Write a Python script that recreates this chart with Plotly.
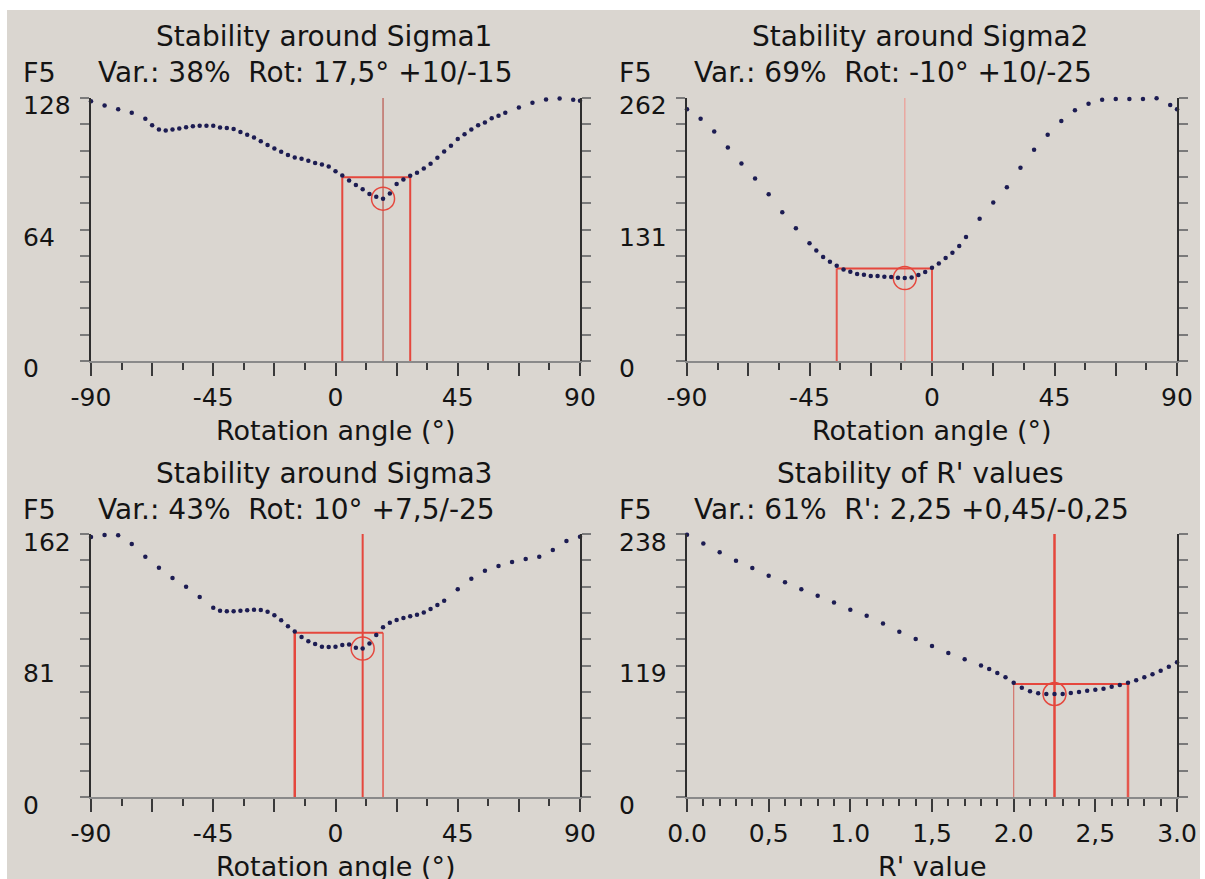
import plotly.graph_objects as go

# ---------------- data ----------------
s1_x = [-90, -85, -80, -75, -70, -67.5, -65, -62.5, -60, -57.5, -55, -52.5, -50, -47.5, -45,
        -42.5, -40, -37.5, -35, -32.5, -30, -27.5, -25, -22.5, -20, -17.5, -15, -12.5, -10,
        -7.5, -5, -2.5, 0, 2.5, 5, 7.5, 10, 12.5, 15, 17.5, 20, 22.5, 25, 27.5, 30, 32.5, 35,
        37.5, 40, 42.5, 45, 47.5, 50, 52.5, 55, 57.5, 60, 62.5, 67.5, 72.5, 77.5, 82.5, 87.5, 90]
s1_y = [126.4, 124.3, 122.5, 120.8, 117.9, 114.7, 112.7, 112.2, 112.7, 113.2, 113.8, 114.3, 114.5,
        114.5, 114.5, 113.7, 113.4, 112.9, 111.4, 110.1, 108.8, 106.9, 105.1, 103.4, 101.8, 100.2,
        99.0, 98.4, 97.4, 96.4, 95.6, 94.7, 92.4, 90.3, 87.8, 85.7, 83.6, 81.3, 79.9, 79.0, 81.5,
        86.2, 88.3, 90.1, 91.6, 93.7, 96.0, 98.9, 102.0, 104.7, 108.0, 110.4, 112.7, 114.7, 116.1,
        118.1, 119.4, 120.8, 123.4, 125.7, 127.3, 127.8, 127.2, 126.7]

s2_x = [-90, -85, -80, -75, -70, -65, -60, -55, -50, -45, -42.5, -40, -37.5, -35, -32.5, -30,
        -27.5, -25, -22.5, -20, -17.5, -15, -12.5, -10, -7.5, -5, -2.5, 0, 2.5, 5, 7.5, 10, 12.5,
        17.5, 22.5, 27.5, 32.5, 37.5, 42.5, 47.5, 52.5, 57.5, 62.5, 67.5, 72.5, 77.5, 82.5, 87.5, 90]
s2_y = [250.7, 241.4, 228.7, 212.7, 196.7, 181.8, 166.1, 148.1, 132.2, 117.2, 110.2, 103.5, 98.9,
        94.9, 91.2, 88.9, 86.6, 85.9, 84.6, 84.6, 83.9, 83.6, 82.9, 82.6, 83.2, 85.6, 88.6, 92.9,
        97.2, 102.5, 107.9, 114.5, 123.5, 141.8, 157.8, 173.1, 192.4, 210.4, 225.4, 239.0, 249.7,
        256.3, 260.3, 261.0, 261.0, 261.0, 261.7, 255.0, 250.7]

s3_x = [-90, -85, -80, -75, -70, -65, -60, -55, -50, -45, -42.5, -40, -37.5, -35, -32.5, -30,
        -27.5, -25, -22.5, -20, -17.5, -15, -12.5, -10, -7.5, -5, -2.5, 0, 2.5, 5, 7.5, 10, 12.5,
        15, 17.5, 20, 22.5, 25, 27.5, 30, 32.5, 35, 37.5, 40, 45, 50, 55, 60, 65, 70, 75, 80, 85, 90]
s3_y = [160.1, 161.4, 161.2, 155.8, 148.0, 141.2, 134.9, 129.5, 123.2, 116.6, 114.8, 114.4, 114.4,
        114.8, 115.0, 115.4, 115.2, 114.1, 111.9, 108.8, 105.1, 102.0, 98.5, 95.9, 94.2, 92.6, 92.4,
        92.6, 93.6, 94.0, 92.0, 91.4, 94.6, 99.8, 104.5, 107.4, 109.0, 110.2, 111.3, 112.3, 113.7,
        115.8, 118.3, 120.9, 127.9, 134.5, 139.4, 142.3, 144.7, 146.6, 148.0, 152.1, 157.7, 160.3]

r_x = [0.0, 0.1, 0.2, 0.3, 0.4, 0.5, 0.6, 0.7, 0.8, 0.9, 1.0, 1.1, 1.2, 1.3, 1.4, 1.5, 1.6, 1.7,
       1.8, 1.85, 1.9, 1.95, 2.0, 2.05, 2.1, 2.15, 2.2, 2.25, 2.3, 2.35, 2.4, 2.45, 2.5, 2.55, 2.6,
       2.65, 2.7, 2.75, 2.8, 2.85, 2.9, 2.95, 3.0]
r_y = [237.4, 229.3, 221.4, 213.9, 207.2, 200.3, 194.3, 187.9, 182.2, 175.9, 169.5, 164.1, 156.9,
       149.6, 143.0, 136.6, 130.3, 124.6, 118.9, 115.8, 112.2, 108.3, 103.5, 98.9, 95.6, 93.8, 93.2,
       93.2, 93.2, 94.1, 95.0, 96.2, 97.1, 98.0, 99.8, 101.4, 103.5, 105.6, 108.3, 111.0, 114.3,
       117.9, 121.9]

titles = ["Stability around Sigma1", "Stability around Sigma2",
          "Stability around Sigma3", "Stability of R' values"]
subtitles = ["Var.: 38%  Rot: 17,5° +10/-15", "Var.: 69%  Rot: -10° +10/-25",
             "Var.: 43%  Rot: 10° +7,5/-25", "Var.: 61%  R': 2,25 +0,45/-0,25"]
x_titles = ["Rotation angle (°)", "Rotation angle (°)", "Rotation angle (°)", "R' value"]
y_max = [128, 262, 162, 238]
y_labels = [[0, 64, 128], [0, 131, 262], [0, 81, 162], [0, 119, 238]]
optimum = [17.5, -10, 10, 2.25]
lower = [2.5, -35, -15, 2.0]
upper = [27.5, 0, 17.5, 2.7]
threshold = [89.4, 92.2, 101.2, 102.3]
min_value = [79.0, 82.6, 91.4, 93.2]

angle_ticks = [-90, -67.5, -45, -22.5, 0, 22.5, 45, 67.5, 90]
angle_text = ["-90", "", "-45", "", "0", "", "45", "", "90"]
r_ticks = [0.0, 0.5, 1.0, 1.5, 2.0, 2.5, 3.0]
r_text = ["0.0", "0,5", "1.0", "1,5", "2.0", "2,5", "3.0"]

series_x = [s1_x, s2_x, s3_x, r_x]
series_y = [s1_y, s2_y, s3_y, r_y]

# styles: (center width, center color, lower width, lower color, upper width, upper color)
line_styles = [
    (1.2, "#b8554c", 2.0, "#e5473d", 2.0, "#e5473d"),
    (1.5, "#eaa8a0", 2.0, "#e5574d", 2.0, "#e5574d"),
    (2.0, "#e5473d", 2.5, "#e5473d", 1.5, "#e5574d"),
    (2.5, "#e5473d", 1.2, "#d4746d", 2.5, "#e5574d"),
]

W, H = 1205, 879
BG = "#DAD6D0"
FONT = "DejaVu Sans"
TXT = "#141414"
RED = "#e5473d"

# pixel frames of the plotting areas (left, right, top, bottom)
frames = [(91, 580, 98, 361), (687, 1177, 98, 361), (91, 580, 534, 797), (687, 1177, 534, 797)]

fig = go.Figure()

for i in range(4):
    n = "" if i == 0 else str(i + 1)
    xa, ya = "x" + n, "y" + n
    l, r, t, b = frames[i]
    ym = y_max[i]
    cw, cc, lw, lc, uw, uc = line_styles[i]

    # red construction lines
    fig.add_trace(go.Scatter(x=[optimum[i], optimum[i]], y=[0, ym], mode="lines",
                             line=dict(color=cc, width=cw), xaxis=xa, yaxis=ya,
                             showlegend=False, hoverinfo="skip", cliponaxis=False))
    fig.add_trace(go.Scatter(x=[lower[i], lower[i]], y=[0, threshold[i]], mode="lines",
                             line=dict(color=lc, width=lw), xaxis=xa, yaxis=ya,
                             showlegend=False, hoverinfo="skip"))
    fig.add_trace(go.Scatter(x=[upper[i], upper[i]], y=[0, threshold[i]], mode="lines",
                             line=dict(color=uc, width=uw), xaxis=xa, yaxis=ya,
                             showlegend=False, hoverinfo="skip"))
    fig.add_trace(go.Scatter(x=[lower[i], upper[i]], y=[threshold[i], threshold[i]], mode="lines",
                             line=dict(color=RED, width=2), xaxis=xa, yaxis=ya,
                             showlegend=False, hoverinfo="skip"))
    # circle around the minimum
    fig.add_trace(go.Scatter(x=[optimum[i]], y=[min_value[i]], mode="markers",
                             marker=dict(symbol="circle-open", size=23, color=RED,
                                         line=dict(color=RED, width=1.5)),
                             xaxis=xa, yaxis=ya, showlegend=False, hoverinfo="skip"))
    # data points
    fig.add_trace(go.Scatter(x=series_x[i], y=series_y[i], mode="markers",
                             marker=dict(size=4.5, color="#1c1c52"),
                             xaxis=xa, yaxis=ya, showlegend=False, cliponaxis=False))

    xdom = [l / W, r / W]
    ydom = [1 - b / H, 1 - t / H]
    is_r = i == 3
    xaxis = dict(domain=xdom, anchor=ya, automargin=False,
                 range=[0, 3] if is_r else [-90, 90],
                 tickmode="array",
                 tickvals=r_ticks if is_r else angle_ticks,
                 ticktext=r_text if is_r else angle_text,
                 ticks="outside", ticklen=13, tickwidth=2, tickcolor="#3a3a3a",
                 minor=dict(dtick=0.1 if is_r else 11.25, tick0=0 if is_r else -90,
                            ticks="outside", ticklen=7, tickwidth=1.5, tickcolor="#3a3a3a"),
                 showline=True, linecolor="#8a8a8a", linewidth=2, mirror=False,
                 showgrid=False, zeroline=False, fixedrange=True,
                 tickfont=dict(family=FONT, size=25, color=TXT),
                 ticklabelstandoff=0)
    yaxis = dict(domain=ydom, anchor=xa, range=[0, ym], automargin=False,
                 tickmode="array",
                 tickvals=[ym * k / 10 for k in range(11)],
                 ticktext=[""] * 11,
                 ticks="outside", ticklen=9, tickwidth=1.5, tickcolor="#7a7a7a",
                 showline=True, linecolor="#2e2e2e", linewidth=2, mirror="ticks",
                 showgrid=False, zeroline=False, fixedrange=True)
    fig.update_layout({"xaxis" + n: xaxis, "yaxis" + n: yaxis})

    xd = "x" + n + " domain"
    yd = "y" + n + " domain"
    # title
    fig.add_annotation(text=titles[i], xref=xd, yref=yd, x=0.5, y=1, xshift=-12, yshift=61,
                       xanchor="center", yanchor="middle", showarrow=False,
                       font=dict(family=FONT, size=28, color=TXT))
    # subtitle
    fig.add_annotation(text="F5", xref=xd, yref=yd, x=0, y=1, xshift=-70, yshift=25,
                       xanchor="left", yanchor="middle", showarrow=False,
                       font=dict(family=FONT, size=27, color=TXT))
    fig.add_annotation(text=subtitles[i], xref=xd, yref=yd, x=0, y=1, xshift=5, yshift=25,
                       xanchor="left", yanchor="middle", showarrow=False,
                       font=dict(family=FONT, size=28, color=TXT))
    # y tick labels
    for v in y_labels[i]:
        fig.add_annotation(text=str(v), xref=xd, yref=ya, x=0, y=v, xshift=-70, yshift=-8,
                           xanchor="left", yanchor="middle", showarrow=False,
                           font=dict(family=FONT, size=25, color=TXT))
    # x axis title
    fig.add_annotation(text=x_titles[i], xref=xd, yref=yd, x=0.5, y=0, yshift=-69,
                       xanchor="center", yanchor="middle", showarrow=False,
                       font=dict(family=FONT, size=27, color=TXT))

# beige backdrop
fig.add_shape(type="rect", xref="paper", yref="paper", x0=7 / W, x1=1200 / W, y0=0,
              y1=1 - 10 / H, fillcolor=BG, line=dict(width=0), layer="below")

fig.update_layout(width=W, height=H, margin=dict(l=0, r=0, t=0, b=0, pad=0, autoexpand=False),
                  paper_bgcolor="white", plot_bgcolor="rgba(0,0,0,0)",
                  font=dict(family=FONT, color=TXT), showlegend=False)

fig.write_html("out.html", config={"displayModeBar": False},
               post_script="document.body.style.margin='0';")
